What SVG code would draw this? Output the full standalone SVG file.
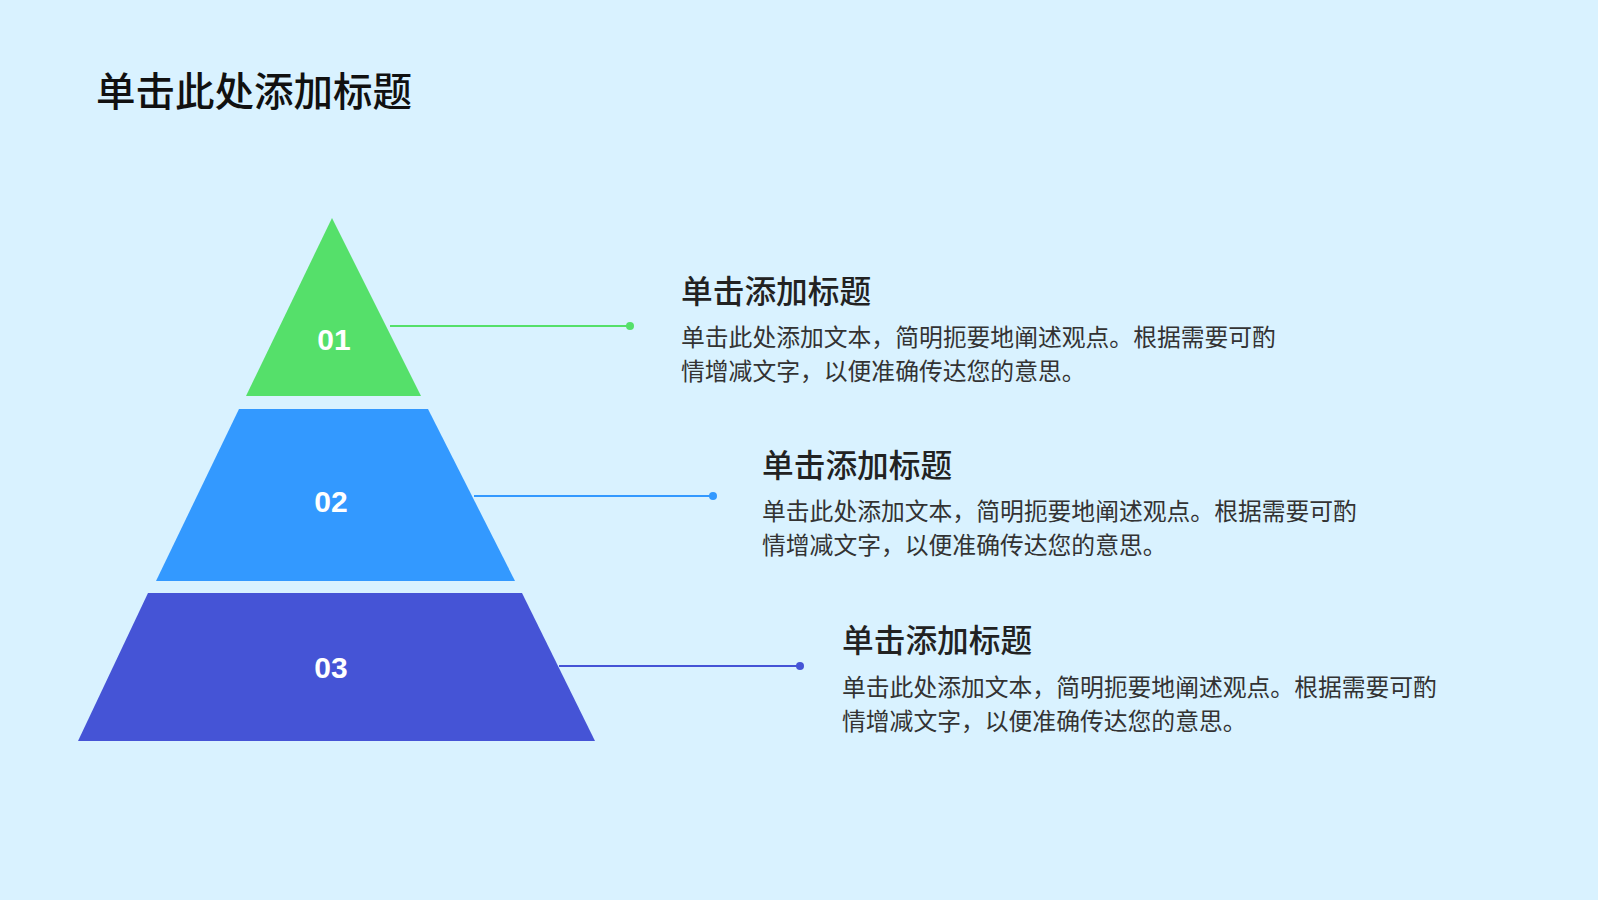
<svg xmlns="http://www.w3.org/2000/svg" width="1598" height="900" viewBox="0 0 1598 900">
<style>
text{font-family:"Liberation Sans","Noto Sans CJK SC",sans-serif}
.t{font-size:39.5px;fill:#111;font-weight:500}
.h{font-size:31.7px;fill:#222;font-weight:500}
.b{font-size:23.8px;fill:#333}
.n{font-size:30px;font-weight:bold;fill:#fff;text-anchor:middle}
</style>
<rect width="1598" height="900" fill="#d9f2ff"/>
<text class="t" x="96" y="106">单击此处添加标题</text>
<g id="tier1"><polygon points="332,218 421,396 246,396" fill="#55e06a"/><text class="n" x="334" y="350">01</text></g>
<g id="tier2"><polygon points="239,409 428,409 515,581 156,581" fill="#3399ff"/><text class="n" x="331" y="512">02</text></g>
<g id="tier3"><polygon points="148,593 522,593 595,741 78,741" fill="#4554d6"/><text class="n" x="331" y="678">03</text></g>
<g id="connectors" stroke-width="2">
<line x1="390" y1="326" x2="630" y2="326" stroke="#55e06a"/><circle cx="630" cy="326" r="4" fill="#55e06a"/>
<line x1="474" y1="496" x2="713" y2="496" stroke="#3399ff"/><circle cx="713" cy="496" r="4" fill="#3399ff"/>
<line x1="559" y1="666" x2="800" y2="666" stroke="#4554d6"/><circle cx="800" cy="666" r="4" fill="#4554d6"/>
</g>
<g id="text1"><text class="h" x="681" y="303">单击添加标题</text><text class="b" x="681" y="346">单击此处添加文本，简明扼要地阐述观点。根据需要可酌</text><text class="b" x="681" y="380">情增减文字，以便准确传达您的意思。</text></g>
<g id="text2"><text class="h" x="762" y="477">单击添加标题</text><text class="b" x="762" y="520">单击此处添加文本，简明扼要地阐述观点。根据需要可酌</text><text class="b" x="762" y="554">情增减文字，以便准确传达您的意思。</text></g>
<g id="text3"><text class="h" x="842" y="652">单击添加标题</text><text class="b" x="842" y="696">单击此处添加文本，简明扼要地阐述观点。根据需要可酌</text><text class="b" x="842" y="730">情增减文字，以便准确传达您的意思。</text></g>
</svg>
